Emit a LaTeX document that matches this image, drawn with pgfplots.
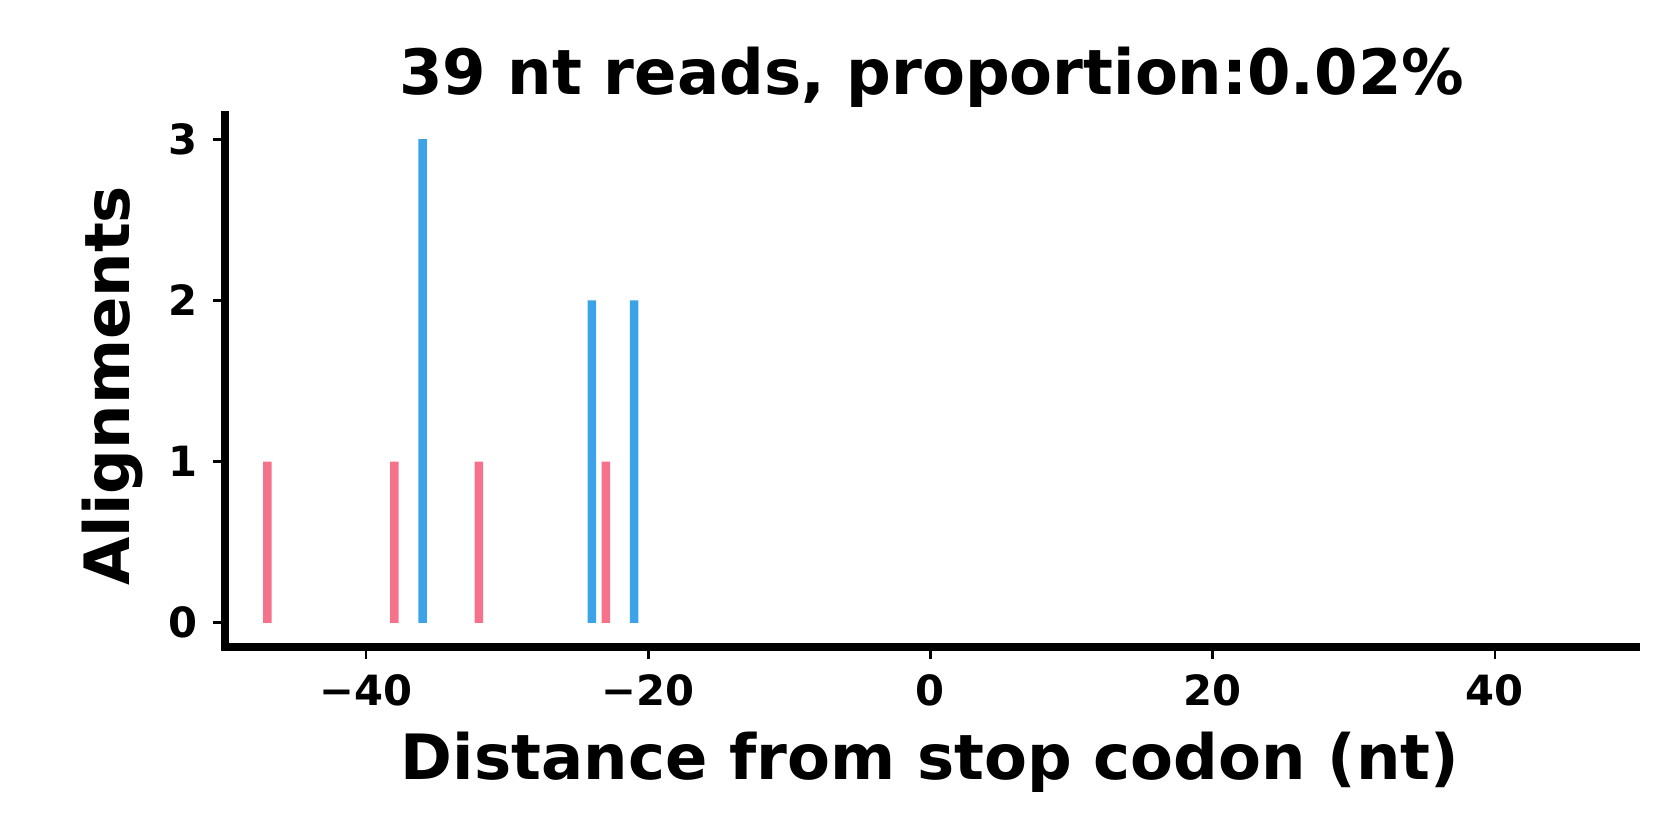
\documentclass[border=0pt]{standalone}
\usepackage{pgfplots}
\pgfplotsset{compat=1.18}
\usepackage{fontspec}
\setmainfont{DejaVu Sans}
\definecolor{pinkbar}{RGB}{246,114,138}
\definecolor{bluebar}{RGB}{61,163,232}
\begin{document}
\begin{tikzpicture}
\useasboundingbox (0,0) rectangle (504pt,252pt);
\begin{axis}[
  at={(67.5pt,57.9pt)}, anchor=south west,
  scale only axis, width=423.3pt, height=159.6pt,
  xmin=-50, xmax=50, ymin=-0.15, ymax=3.15,
  axis x line*=bottom, axis y line*=left,
  axis line style={-, line width=2.4pt, line cap=rect},
  xtick={-40,-20,0,20,40},
  xticklabels={−40,−20,0,20,40},
  ytick={0,1,2,3},
  yticklabels={0,1,2,3},
  tick align=outside,
  major tick length=3.6pt,
  tick style={line width=0.8pt, black},
  ticklabel style={font=\bfseries\fontsize{12.5}{14}\selectfont},
  xticklabel style={yshift=-1pt},
  yticklabel style={xshift=-1pt},
  ybar, bar width=0.6, bar shift=0pt,
  clip=false,
]
\addplot[fill=pinkbar, draw=none, bar shift=0pt] coordinates {(-47,1) (-38,1) (-32,1) (-23,1)};
\addplot[fill=bluebar, draw=none, bar shift=0pt] coordinates {(-36,3) (-24,2) (-21,2)};
\end{axis}
\node[font=\bfseries\fontsize{18.75}{22}\selectfont] at (279.5pt,228.7pt) {39 nt reads, proportion:0.02\%};
\node[font=\bfseries\fontsize{18.75}{22}\selectfont] at (279pt,23.4pt) {Distance from stop codon (nt)};
\node[font=\bfseries\fontsize{18.75}{22}\selectfont, rotate=90] at (33.75pt,136.3pt) {Alignments};
\end{tikzpicture}
\end{document}
